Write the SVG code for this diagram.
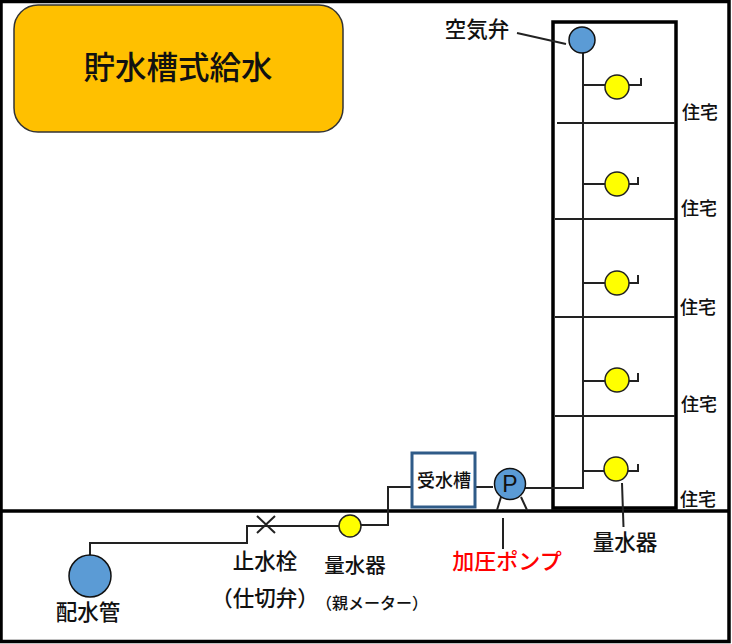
<svg xmlns="http://www.w3.org/2000/svg" width="732" height="644" viewBox="0 0 732 644">
<style>
text{font-family:"Noto Sans CJK JP","Noto Sans CJK SC",sans-serif;fill:#111;text-anchor:middle;font-weight:500}
.l{fill:none;stroke:#222;stroke-width:2}
.b{fill:none;stroke:#000;stroke-width:3.500}
.m{fill:#ffff00;stroke:#222;stroke-width:1.500}
.c{fill:#5b9bd5;stroke:#111;stroke-width:1.500}
.s{font-size:18px}
.n{font-size:21.500px}
</style>
<rect width="732" height="644" fill="#fff"/>
<g id="frame"><rect x="1" y="1.500" width="728" height="640" class="b"/><line x1="0" y1="511" x2="730" y2="511" class="b"/></g>
<g id="title"><rect x="14" y="5" width="329" height="127" rx="24" fill="#ffc000" stroke="#333" stroke-width="1.500"/><text x="178" y="79" font-size="31.500">貯水槽式給水</text></g>
<g id="building"><rect x="553" y="22" width="123" height="486" class="b"/></g>
<g id="connectors" class="l">
<path class="l" d="M557 123H675M555 219H675M555 317H675M555 416H675"/>
<path class="l" d="M583 50V488H525"/>
<path class="l" d="M493 487H475M412 487H388V525H360M340 526H247V543H90V556"/>
<path class="l" d="M584 85H606M629 85H641V78M583 184H606M629 184H638V177M583 283H606M629 283H638V275M583 381H606M629 381H638V373M583 471H604M628 471H638V464"/>
<path class="l" d="M517 33L566 44M622 483L623.500 527M503 518V549"/>
<path class="l" d="M497 510L501 497M527 510L521 497"/>
<path class="l" d="M257 516L275 533M275 516L257 533"/>
</g>
<g id="air-valve"><circle cx="582" cy="40" r="13" class="c"/><text x="477" y="37" class="n">空気弁</text></g>
<g id="meter-1"><circle cx="617" cy="87" r="12" class="m"/></g>
<g id="meter-2"><circle cx="617" cy="184" r="12" class="m"/></g>
<g id="meter-3"><circle cx="617" cy="283" r="12" class="m"/></g>
<g id="meter-4"><circle cx="617" cy="380" r="12" class="m"/></g>
<g id="meter-5"><circle cx="616" cy="469" r="12" class="m"/></g>
<g id="homes">
<text x="700" y="119" class="s">住宅</text><text x="699" y="215" class="s">住宅</text><text x="698" y="314" class="s">住宅</text><text x="699" y="411" class="s">住宅</text><text x="698" y="506" class="s">住宅</text>
</g>
<g id="tank"><rect x="412" y="453" width="63" height="54" fill="#fff" stroke="#2f5b88" stroke-width="3"/><text x="444" y="487" class="s">受水槽</text></g>
<g id="pump"><circle cx="510" cy="484" r="15.500" class="c"/><text x="510" y="492" font-size="23" style="font-family:'Liberation Sans',sans-serif;font-weight:400">P</text></g>
<g id="pump-label"><text x="507" y="569" font-size="22" style="fill:#ff0000">加圧ポンプ</text></g>
<g id="meter-label"><text x="625" y="550" class="n">量水器</text></g>
<g id="parent-meter"><circle cx="350" cy="526" r="11" class="m"/><text x="355" y="573" font-size="20.500">量水器</text><text x="372" y="609" font-size="16">（親メーター）</text></g>
<g id="stop-valve"><text x="265" y="569" class="n">止水栓</text><text x="265" y="606" class="n">（仕切弁）</text></g>
<g id="main"><circle cx="90" cy="576" r="21" class="c"/><text x="88" y="620" class="n">配水管</text></g>
</svg>
